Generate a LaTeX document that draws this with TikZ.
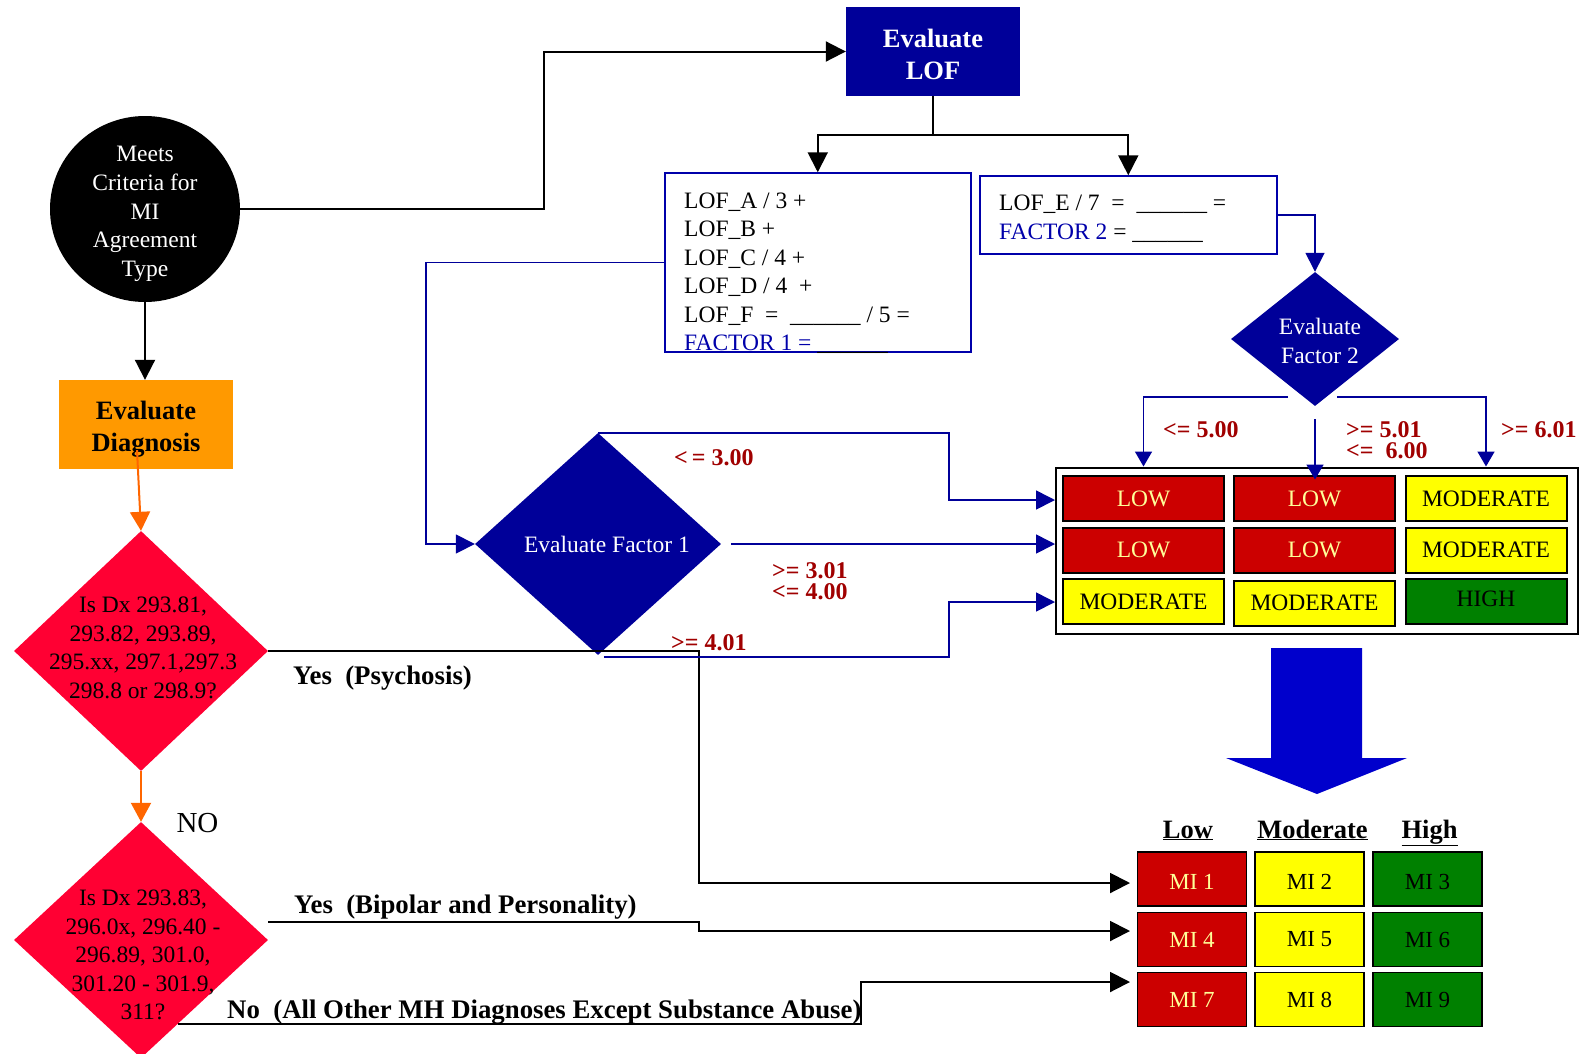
\documentclass[tikz,border=0pt]{standalone}
\usepackage{fontspec}
\setmainfont{Liberation Serif}
\usetikzlibrary{arrows.meta,shapes.geometric}
\definecolor{navy}{RGB}{0,0,153}
\definecolor{lnblue}{RGB}{0,0,170}
\definecolor{lblred}{RGB}{160,0,0}
\definecolor{cellred}{RGB}{204,0,0}
\definecolor{cellyel}{RGB}{255,255,0}
\definecolor{cellgrn}{RGB}{0,128,0}
\definecolor{pale}{RGB}{255,255,153}
\definecolor{dxred}{RGB}{255,0,51}
\definecolor{diagorange}{RGB}{255,153,0}
\definecolor{arrorange}{RGB}{255,102,0}
\definecolor{bigblue}{RGB}{0,0,204}
\tikzset{
  reg/.style={font=\fontsize{23.5}{28.5}\selectfont},
  hdr/.style={font=\bfseries\fontsize{26.5}{32}\selectfont},
  rlab/.style={font=\bfseries\fontsize{24}{21}\selectfont, text=lblred, inner sep=0},
  blab/.style={font=\bfseries\fontsize{26.8}{30}\selectfont, inner sep=0},
  blk/.style={draw=black, line width=2pt},
  blkarr/.style={blk, -{Triangle[length=20pt,width=20pt]}},
  bln/.style={draw=navy, line width=1.6pt},
  blnarr/.style={bln, -{Triangle[length=19pt,width=19pt]}},
  blnsmall/.style={bln, -{Triangle[length=15pt,width=17pt]}},
  orarr/.style={draw=arrorange, line width=2pt, -{Triangle[length=19pt,width=20pt]}},
  gcell/.style={draw=black, line width=2pt, minimum width=161pt, minimum height=45pt, inner sep=0, reg},
  micell/.style={draw=black, line width=1.8pt, minimum width=109pt, minimum height=54pt, inner sep=0,
    font=\fontsize{23}{28}\selectfont},
  lowtext/.style={text height=21pt, text depth=0pt},
  redc/.style={fill=cellred, text=pale},
  yelc/.style={fill=cellyel, text=black},
  grnc/.style={fill=cellgrn, text=black},
}
\begin{document}
\begin{tikzpicture}[x=1pt,y=-1pt]
\useasboundingbox (0,0) rectangle (1581,1053);

% start circle
\node[ellipse, fill=black, minimum width=190pt, minimum height=186pt, inner sep=0] (meets) at (145,209) {};
\node[reg, text=white, align=center, font=\fontsize{23.5}{28.8}\selectfont] (meetsT) at (145,214) {Meets\\Criteria for\\MI\\Agreement\\Type};

% LOF evaluation
\node[fill=navy, minimum width=174pt, minimum height=89pt, inner sep=0] (lof) at (933,51.5) {};
\node[hdr, text=white, align=center] (lofT) at (933,54) {Evaluate\\LOF};

% formula boxes
\node[draw=lnblue, line width=1.5pt, minimum width=306pt, minimum height=179pt, inner sep=0] (box1) at (817.75,262.5) {};
\node[reg, anchor=north west, inner sep=0, align=left] (box1T) at (684,192.5) {LOF\_A / 3 +\\LOF\_B +\\LOF\_C / 4 +\\LOF\_D / 4\ \ +\\LOF\_F\ \ =\ \ \_\_\_\_\_\_ / 5 =\\{\color{lnblue}FACTOR 1 =} \_\_\_\_\_\_};
\node[draw=lnblue, line width=1.5pt, minimum width=297pt, minimum height=78pt, inner sep=0] (box2) at (1128.3,215) {};
\node[reg, anchor=north west, inner sep=0, align=left, font=\fontsize{23.5}{29}\selectfont] (box2T) at (999,194.5) {LOF\_E / 7\ \ =\ \ \_\_\_\_\_\_ =\\{\color{lnblue}FACTOR 2} = \_\_\_\_\_\_};

% decision diamonds
\node[diamond, fill=navy, minimum width=246pt, minimum height=222pt, inner sep=0] (f1) at (598,544) {};
\node[reg, text=white] (f1T) at (607,544) {Evaluate Factor 1};
\node[diamond, fill=navy, minimum width=168pt, minimum height=134pt, inner sep=0] (f2) at (1315,339) {};
\node[reg, text=white, align=center, font=\fontsize{23.5}{29}\selectfont] (f2T) at (1320,341) {Evaluate\\Factor 2};

% diagnosis branch
\node[fill=diagorange, minimum width=174pt, minimum height=89pt, inner sep=0] (diag) at (146,424.5) {};
\node[hdr, align=center] (diagT) at (146,429.5) {Evaluate\\Diagnosis};
\node[diamond, fill=dxred, minimum width=254pt, minimum height=240pt, inner sep=0] (dx1) at (141,651) {};
\node[reg, align=center] (dx1T) at (143,648) {Is Dx 293.81,\\293.82, 293.89,\\295.xx, 297.1,297.3\\298.8 or 298.9?};
\node[diamond, fill=dxred, minimum width=254pt, minimum height=236pt, inner sep=0] (dx2) at (141,940) {};
\node[reg, align=center] (dx2T) at (143,955) {Is Dx 293.83,\\296.0x, 296.40 -\\296.89, 301.0,\\301.20 - 301.9,\\311?};
\node[font=\fontsize{29}{32}\selectfont, inner sep=0] (no) at (197.5,823) {NO};

% LOF rating grid
\node[draw=black, line width=2pt, minimum width=522pt, minimum height=166pt, inner sep=0] (grid) at (1317,550.5) {};
\node[gcell, redc] (c11) at (1143.5,498.5) {LOW};
\node[gcell, redc] (c12) at (1314.5,498.5) {LOW};
\node[gcell, yelc] (c13) at (1486,498.5) {MODERATE};
\node[gcell, redc] (c21) at (1143.5,550) {LOW};
\node[gcell, redc] (c22) at (1314.5,550) {LOW};
\node[gcell, yelc] (c23) at (1486,550) {MODERATE};
\node[gcell, yelc] (c31) at (1143.5,601.5) {MODERATE};
\node[gcell, yelc] (c32) at (1314.5,603) {MODERATE};
\node[gcell, grnc, text depth=5pt] (c33) at (1486,601.5) {HIGH};

% big arrow down to the MI grid
\fill[bigblue] (1271,648) -- (1362,648) -- (1362,758) -- (1407,758) -- (1317,794) -- (1226,758) -- (1271,758) -- cycle;

% MI grid
\node[hdr, inner sep=0, anchor=base] (hLow) at (1188,838) {\underline{Low}};
\node[hdr, inner sep=0, anchor=base] (hMod) at (1312.5,838) {\underline{Moderate}};
\node[hdr, inner sep=0, anchor=base] (hHigh) at (1429.5,838) {\underline{High}};
\node[micell, redc, lowtext] (mi1) at (1192,879) {MI 1};
\node[micell, yelc, lowtext] (mi2) at (1309.5,879) {MI 2};
\node[micell, grnc, lowtext] (mi3) at (1427.5,879) {MI 3};
\node[micell, redc] (mi4) at (1192,939.5) {MI 4};
\node[micell, yelc] (mi5) at (1309.5,939.5) {MI 5};
\node[micell, grnc] (mi6) at (1427.5,939.5) {MI 6};
\node[micell, redc] (mi7) at (1192,999.5) {MI 7};
\node[micell, yelc] (mi8) at (1309.5,999.5) {MI 8};
\node[micell, grnc] (mi9) at (1427.5,999.5) {MI 9};

% arrow end points
\coordinate (g1) at (1055,500);
\coordinate (g2) at (1055,544);
\coordinate (g3) at (1055,602);
\coordinate (kA) at (949,500);
\coordinate (kB) at (949,602);
\coordinate (mi1in) at (1130,883);
\coordinate (mi4in) at (1130,931);
\coordinate (mi7in) at (1130,982);
\coordinate (jA) at (699,883);
\coordinate (jB) at (699,931);
\coordinate (jC) at (860.6,982);
\coordinate (split) at (933,135);
\coordinate (hL) at (1288,397);
\coordinate (hR) at (1337,397);

% black connectors
\draw[blkarr] (meets.east) -| (544,120) |- (lof.west);
\draw[blk] (lof.south) -- (split);
\draw[blkarr] (split) -| (box1.north);
\draw[blkarr] (split) -| (box2.north);
\draw[blkarr] (meets.south) -- (meets.south |- diag.north);
\draw[blkarr] (dx1.east) -| (jA) -- (mi1in);
\draw[blkarr] ([yshift=18pt]dx2.east) -| (jB) -- (mi4in);
\draw[blkarr] (dx2.-66.5) -| (jC) -- (mi7in);

% orange connectors
\draw[orarr] ([shift={(-9pt,19pt)}]diag.south) -- (dx1.north);
\draw[orarr] (dx1.south) -- (dx2.north);

% blue connectors
\draw[blnarr] (box1.west) -| ([xshift=-49pt]f1.west) -- (f1.west);
\draw[blnarr] (box2.east) -| (f2.north);
\draw[blnarr] (f1.north) -| (kA) -- (g1);
\draw[blnarr] ([xshift=10pt]f1.east) -- (g2);
\draw[blnarr] ([shift={(6pt,-2pt)}]f1.south) -| (kB) -- (g3);
\draw[blnsmall] (hL) -| (grid.north -| c11);
\draw[blnsmall] (hR) -| (grid.north -| c13);
\draw[blnsmall] ([yshift=-13pt]f2.south) -- ([yshift=-13pt]f2.south |- grid.north);

% threshold labels
\node[rlab, anchor=base west] (t1) at (674,465) {<\,= 3.00};
\node[rlab, anchor=west, align=left] (t2) at (772,581) {>= 3.01\\<= 4.00};
\node[rlab, anchor=base west] (t3) at (671,650) {>= 4.01};
\node[rlab, anchor=base west] (t4) at (1163,437) {<= 5.00};
\node[rlab, anchor=west, align=left] (t5) at (1346,440) {>= 5.01\\<=\ \ 6.00};
\node[rlab, anchor=base west] (t6) at (1501,437) {>= 6.01};

% branch labels
\node[blab, anchor=base west] (yes1) at (293,684) {Yes\ \ (Psychosis)};
\node[blab, anchor=base west] (yes2) at (294,913) {Yes\ \ (Bipolar and Personality)};
\node[blab, anchor=base west] (no2) at (227,1018) {No\ \ (All Other MH Diagnoses Except Substance Abuse)};
\end{tikzpicture}
\end{document}
